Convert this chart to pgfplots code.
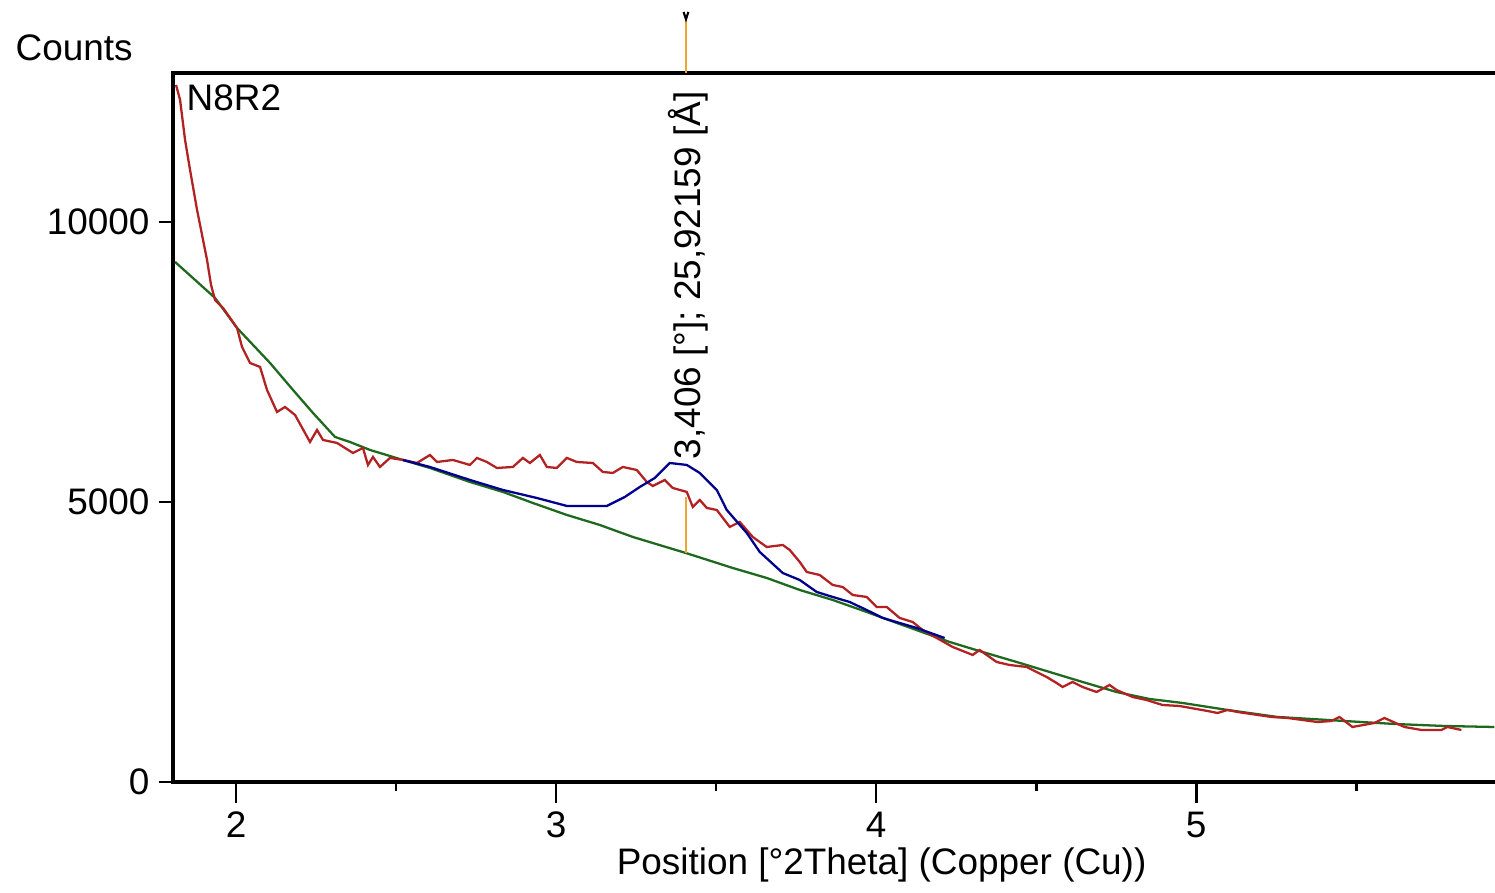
\documentclass[border=0pt]{standalone}
\usepackage{pgfplots}
\pgfplotsset{compat=1.18}
\usepackage{fontspec}
\setmainfont{Liberation Sans}
\definecolor{meas}{RGB}{178,34,34}
\definecolor{prof}{RGB}{0,0,140}
\definecolor{bkg}{RGB}{30,105,30}
\definecolor{pkorange}{RGB}{240,165,50}
\begin{document}
\fontsize{10.5}{12}\selectfont
\begin{tikzpicture}
\begin{axis}[
  scale only axis,
  width=132.2mm, height=70.9mm,
  xmin=1.803, xmax=5.934, ymin=0, ymax=12660,
  axis line style={draw=none},
  clip=false,
  tick align=outside,
  xtick={2,3,4,5},
  minor xtick={2.5,3.5,4.5,5.5},
  ytick={0,5000,10000},
  xtick style={black, line width=0.8pt, /pgfplots/major tick length=2.1mm, /pgfplots/minor tick length=0.9mm},
  ytick style={black, line width=0.8pt, /pgfplots/major tick length=1.4mm},
  xtick pos=bottom, ytick pos=left,
  scaled y ticks=false,
  /pgf/number format/assume math mode=true,
  yticklabel={\pgfmathprintnumber[fixed,precision=0,1000 sep={}]{\tick}},
  ticklabel style={font=\fontsize{10.5}{12}\selectfont},
  xticklabel style={anchor=north, yshift=-0.2mm},
  yticklabel style={anchor=east, xshift=0.45mm},
  xlabel={Position [°2Theta] (Copper (Cu))},
  xlabel style={at={(rel axis cs:0.536,0)}, anchor=center, yshift=-8.3mm, font=\fontsize{10.5}{12}\selectfont},
]
% frame (left, top, bottom)
\draw[black, line width=1.2pt] (rel axis cs:1,1) -- (rel axis cs:0,1) -- (rel axis cs:0,0) -- (rel axis cs:1,0);

% background (green)
\addplot[bkg, line width=0.65pt] coordinates {
(1.8095,9286) (1.9344,8643) (2.0031,8107) (2.1062,7482) (2.1780,7000) (2.2405,6589)
(2.3092,6161) (2.3560,6071) (2.4185,5929) (2.5215,5750) (2.6059,5607) (2.7308,5357)
(2.8339,5179) (2.9275,4982) (3.0337,4768) (3.1368,4589) (3.2399,4375) (3.4054,4089)
(3.5522,3821) (3.6583,3643) (3.7614,3429) (3.8645,3250) (3.9706,3036) (4.0737,2821)
(4.2299,2500) (4.3330,2321) (4.4391,2143) (4.5422,1964) (4.6452,1786) (4.7514,1607)
(4.8545,1482) (4.9575,1411) (5.0981,1286) (5.2542,1161) (5.3604,1125) (5.4635,1089)
(5.6197,1036) (5.7758,1000) (5.9319,982)
};

% measured (red)
\addplot[meas, line width=0.65pt] coordinates {
(1.8126,12446) (1.8251,12179) (1.8407,11464) (1.8563,10929) (1.8782,10214) (1.8969,9679)
(1.9094,9321) (1.9219,8875) (1.9344,8607) (1.9594,8464) (1.9813,8286) (2.0031,8107)
(2.0187,7768) (2.0437,7482) (2.0750,7411) (2.0968,7000) (2.1280,6607) (2.1530,6696)
(2.1843,6554) (2.2311,6071) (2.2530,6286) (2.2717,6107) (2.3154,6054) (2.3654,5875)
(2.3966,5964) (2.4122,5661) (2.4279,5804) (2.4497,5625) (2.4810,5786) (2.5215,5750)
(2.5653,5696) (2.6059,5839) (2.6277,5714) (2.6777,5750) (2.7308,5661) (2.7527,5786)
(2.7839,5714) (2.8151,5607) (2.8651,5625) (2.8963,5786) (2.9182,5696) (2.9494,5839)
(2.9713,5625) (3.0025,5607) (3.0337,5786) (3.0650,5714) (3.1149,5696) (3.1462,5536)
(3.1774,5518) (3.2086,5625) (3.2523,5571) (3.2836,5357) (3.3023,5286) (3.3398,5393)
(3.3648,5250) (3.4085,5179) (3.4272,4911) (3.4491,5036) (3.4710,4893) (3.5022,4857)
(3.5428,4554) (3.5740,4643) (3.6146,4375) (3.6583,4196) (3.7083,4232) (3.7302,4143)
(3.7614,3929) (3.7833,3750) (3.8239,3696) (3.8645,3518) (3.8957,3482) (3.9269,3339)
(3.9706,3304) (4.0019,3125) (4.0331,3125) (4.0737,2929) (4.1143,2857) (4.1455,2714)
(4.2392,2411) (4.3017,2268) (4.3236,2357) (4.3767,2143) (4.4173,2089) (4.4703,2054)
(4.5328,1875) (4.5640,1768) (4.5828,1696) (4.6140,1786) (4.6452,1696) (4.6890,1607)
(4.7296,1732) (4.7514,1643) (4.8014,1518) (4.8451,1464) (4.8951,1375) (4.9482,1357)
(5.0356,1268) (5.0669,1232) (5.0981,1286) (5.1293,1250) (5.2355,1161) (5.2855,1143)
(5.3792,1071) (5.4229,1089) (5.4479,1161) (5.4885,982) (5.5572,1054) (5.5884,1143)
(5.6509,982) (5.7040,929) (5.7665,929) (5.7852,982) (5.8289,929)
};

% profile (blue)
\addplot[prof, line width=0.65pt] coordinates {
(2.5215,5750) (2.6059,5625) (2.7308,5393) (2.8339,5214) (2.9400,5071) (3.0337,4929)
(3.1587,4929) (3.2149,5089) (3.2617,5268) (3.3086,5429) (3.3554,5696) (3.4085,5661)
(3.4491,5518) (3.5022,5214) (3.5334,4857) (3.5959,4446) (3.6365,4107) (3.7083,3732)
(3.7614,3607) (3.8145,3393) (3.8645,3304) (3.9175,3214) (3.9706,3071) (4.0206,2929)
(4.0737,2839) (4.1268,2750) (4.2142,2571)
};

% peak marker
\draw[pkorange, line width=0.7pt] (axis cs:3.406,4089) -- (axis cs:3.406,5089);
\draw[pkorange, line width=0.7pt] (axis cs:3.406,12660) -- (axis cs:3.406,13700);
\draw[black, line width=0.6pt] (axis cs:3.3985,13750) -- (axis cs:3.406,13620) -- (axis cs:3.4135,13750);
\node[rotate=90, anchor=west, inner sep=0pt] at (axis cs:3.4116,5750) {3,406 [°]; 25,92159 [Å]};

% texts
\node[anchor=west, inner sep=0pt] at (rel axis cs:0,0) [xshift=1.3mm, yshift=68.4mm] {N8R2};
\node[anchor=west, inner sep=0pt] at (rel axis cs:0,0) [xshift=-15.8mm, yshift=73.4mm] {Counts};
\end{axis}
\pgfresetboundingbox
\useasboundingbox (-17.3mm,-11.1mm) rectangle (132.2mm,78.2mm);
\end{tikzpicture}
\end{document}
